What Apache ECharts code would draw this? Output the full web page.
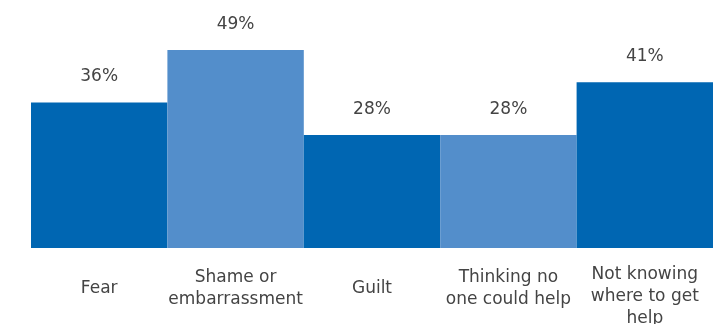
<!DOCTYPE html>
<html>
<head>
<meta charset="utf-8">
<script src="https://cdn.jsdelivr.net/npm/echarts@6/dist/echarts.min.js"></script>
<style>
  html, body { margin: 0; padding: 0; background: #fff; }
  #chart { width: 713px; height: 324px; }
</style>
</head>
<body>
<div id="chart"></div>
<script>
// Reasons for not seeking help (share of respondents, %)
const categories = [
  'Fear',
  'Shame or\nembarrassment',
  'Guilt',
  'Thinking no\none could help',
  'Not knowing\nwhere to get\nhelp'
];
const values = [36, 49, 28, 28, 41];

const palette = ['#0066B2', '#538ECB'];
const textColor = '#444444';
const fontFamily = '"DejaVu Sans", sans-serif';

// Top offset for the axis labels, keyed by how many lines a label has
const labelTopPad = { 1: 14, 2: 3, 3: 0 };

const chart = echarts.init(document.getElementById('chart'), null, { renderer: 'canvas' });

chart.setOption({
  animation: false,
  grid: { left: 31, right: 0, top: 46, bottom: 76, containLabel: false, outerBoundsMode: 'none' },
  xAxis: {
    type: 'category',
    data: categories.map(c => ({
      value: c,
      textStyle: {
        verticalAlign: 'top',
        lineHeight: 22,
        padding: [labelTopPad[c.split('\n').length] || 0, 0, 0, 0]
      }
    })),
    axisLine: { show: false },
    axisTick: { show: false },
    axisLabel: {
      interval: 0,
      color: textColor,
      fontFamily: fontFamily,
      fontSize: 17,
      lineHeight: 22,
      verticalAlign: 'top',
      margin: 16
    }
  },
  yAxis: {
    type: 'value',
    min: 0,
    max: 50,
    show: false,
    splitLine: { show: false }
  },
  series: [{
    type: 'bar',
    barWidth: '100%',
    barCategoryGap: 0,
    data: values.map((v, i) => ({
      value: v,
      itemStyle: { color: palette[i % 2] }
    })),
    label: {
      show: true,
      position: 'top',
      distance: 17,
      color: textColor,
      fontFamily: fontFamily,
      fontSize: 17,
      formatter: p => p.value + '%'
    }
  }]
});
</script>
</body>
</html>
